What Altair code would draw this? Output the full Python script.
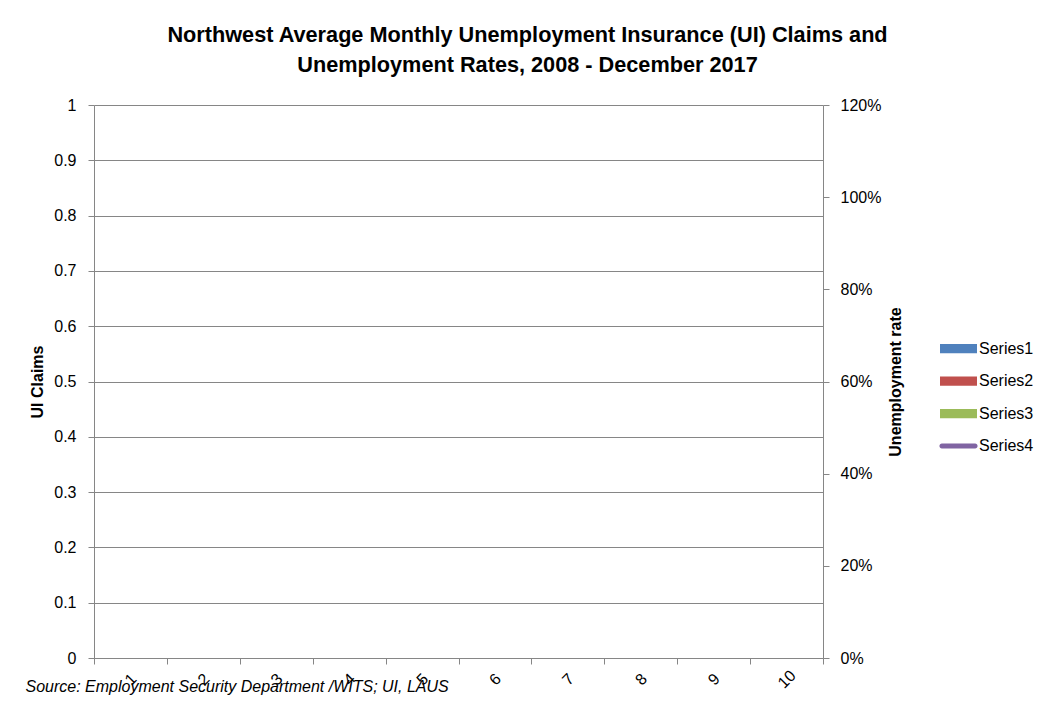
import altair as alt
import pandas as pd

# ---- data (the reference chart is an empty template: no values plotted) ----
categories = ["1", "2", "3", "4", "5", "6", "7", "8", "9", "10"]
series = ["Series1", "Series2", "Series3", "Series4"]
series_colors = ["#4F81BD", "#C0504D", "#9BBB59", "#8064A2"]
claims_values = [None] * len(categories)   # UI claims (empty)
rate_values = [None] * len(categories)     # unemployment rate (empty)

rows = []
for s in series:
    for c, v, r in zip(categories, claims_values, rate_values):
        rows.append({"cat": c, "series": s, "claims": v, "rate": r})
df = pd.DataFrame(rows)

FONT = "Liberation Sans"
GRAY = "#868686"

rect_shape = "M-1,-0.25H1V0.25H-1Z"
line_shape = "M-0.9,-0.13H0.9A0.13,0.13 0 0 1 0.9,0.13H-0.9A0.13,0.13 0 0 1 -0.9,-0.13Z"
series_shapes = [rect_shape, rect_shape, rect_shape, line_shape]

legend = alt.Legend(
    title=None, orient="none", legendX=846, legendY=225,
    symbolSize=1369, symbolStrokeWidth=0, labelFontSize=16, labelFont=FONT,
    labelColor="black", labelOffset=2, rowPadding=5.5,
)

x_enc = alt.X(
    "cat:N", sort=categories,
    scale=alt.Scale(paddingInner=0, paddingOuter=0),
    axis=alt.Axis(
        title="Source: Employment Security Department /WITS; UI, LAUS",
        titleFontStyle="italic", titleFontWeight="normal", titleFontSize=16,
        titleFont=FONT, titleColor="black",
        titleAnchor="start", titleAlign="left", titleBaseline="alphabetic",
        titleX=-69, titleY=33,
        tickBand="extent", labelAngle=-45, labelAlign="center",
        labelBaseline="middle", labelPadding=15, tickSize=6,
        domainColor=GRAY, tickColor=GRAY, grid=False,
    ),
)

claims = alt.Chart(df).mark_point(filled=True, opacity=1).encode(
    x=x_enc,
    y=alt.Y(
        "claims:Q", scale=alt.Scale(domain=[0, 1]),
        axis=alt.Axis(
            title="UI Claims", tickCount=10, format=".1~f", grid=True, gridColor=GRAY,
            tickSize=6, labelPadding=12, titlePadding=8,
            domainColor=GRAY, tickColor=GRAY,
        ),
    ),
    color=alt.Color("series:N", scale=alt.Scale(domain=series, range=series_colors), legend=legend),
    shape=alt.Shape("series:N", scale=alt.Scale(domain=series, range=series_shapes), legend=legend),
)

rate = alt.Chart(df).mark_line(color="#8064A2").encode(
    x=alt.X("cat:N", sort=categories),
    y=alt.Y(
        "rate:Q", scale=alt.Scale(domain=[0, 1.2]),
        axis=alt.Axis(
            title="Unemployment rate", orient="right", format=".0%", tickCount=6,
            grid=False, tickSize=6, labelPadding=11, titlePadding=7,
            titleAngle=270, titleBaseline="top",
            domainColor=GRAY, tickColor=GRAY,
        ),
    ),
)

chart = alt.layer(claims, rate).resolve_scale(y="independent").properties(
    width=729, height=553,
    title=alt.Title(
        ["Northwest Average Monthly Unemployment Insurance (UI) Claims and",
         "Unemployment Rates, 2008 - December 2017"],
        fontSize=21.7, font=FONT, fontWeight="bold", color="black",
        anchor="middle", dx=69, offset=20, lineHeight=30,
    ),
    autosize=alt.AutoSizeParams(type="none"),
    padding={"left": 86, "top": 97, "right": 211, "bottom": 38},
).configure_axis(
    labelFont=FONT, labelFontSize=16, labelColor="black",
    titleFont=FONT, titleFontSize=16, titleFontWeight="bold", titleColor="black",
).configure_view(stroke="transparent")

chart.save("out.html", embed_options={"renderer": "svg", "actions": False})
